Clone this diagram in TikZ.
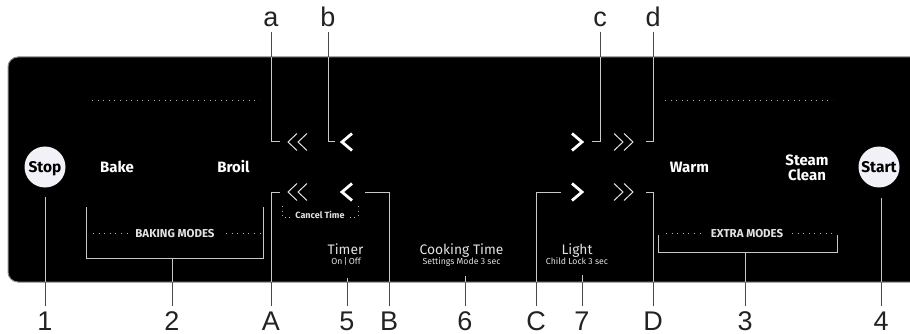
\documentclass[tikz,border=0pt]{standalone}
\usepackage{fontspec}
\setmainfont{Fira Sans}
\newfontfamily\labfont{Liberation Sans}
\definecolor{panelline}{HTML}{8C8C8C}
\definecolor{outconn}{HTML}{4A4A4A}
\definecolor{inconn}{HTML}{C8C8C8}
\definecolor{btnfill}{HTML}{F3F1F8}
\definecolor{dimtext}{HTML}{E2E2E2}
\definecolor{dotcol}{HTML}{B0B0B0}
\definecolor{labcol}{HTML}{222222}
\tikzset{
  lab/.style={font=\labfont\fontsize{27}{27}\selectfont, text=labcol, inner sep=5pt, outer sep=0pt, anchor=base},
  conn/.style={draw=outconn, line width=1pt},
  bracket/.style={draw=inconn, line width=1pt},
  btn/.style={circle, fill=btnfill, minimum size=41pt, inner sep=0pt},
  btntext/.style={font=\fontsize{15.5}{15.5}\selectfont\bfseries, text=black, inner sep=0pt, anchor=base},
  mode/.style={font=\fontsize{15}{15}\selectfont\bfseries, text=white, inner sep=0pt, anchor=base},
  groupname/.style={font=\fontsize{11.5}{11.5}\selectfont\bfseries, text=dimtext, inner sep=0pt, anchor=base},
  bigtxt/.style={font=\fontsize{13.8}{13.8}\selectfont, text=dimtext, inner sep=0pt, anchor=base},
  smalltxt/.style={font=\fontsize{8.7}{8.7}\selectfont, text=dimtext, inner sep=0pt, anchor=base},
  dotline/.style={draw=dotcol, line width=1pt, dash pattern=on 1pt off 4.6pt},
  chevthin/.style={draw=dimtext, line width=1pt},
  chevbold/.style={draw=white, line width=2.8pt},
}
\newcommand\drawconnectors{%
  \draw[conn] (la.south) |- (ea);
  \draw[conn] (lb.south) |- (eb);
  \draw[conn] (lc.south) |- (ec);
  \draw[conn] (ld.south) |- (ed);
  \draw[conn] (lA.north) |- (eA);
  \draw[conn] (lB.north) |- (eB);
  \draw[conn] (lC.north) |- (eC);
  \draw[conn] (lD.north) |- (eD);
  \draw[conn] (l1.north) -- (e1);
  \draw[conn] (l2.north) -- (e2);
  \draw[conn] (l3.north) -- (e3);
  \draw[conn] (l4.north) -- (e4);
  \draw[conn] (l5.north) -- (e5);
  \draw[conn] (l6.north) -- (e6);
  \draw[conn] (l7.north) -- (e7);
}
\begin{document}
\begin{tikzpicture}[x=1pt,y=-1pt]
\useasboundingbox (0,0) rectangle (910,334);
% panel
\draw[fill=black, draw=panelline, line width=1pt, rounded corners=10pt]
  (911,57) -- (8,57) -- (8,282) -- (911,282);

% buttons
\node[btn] (stop) at (45,167) {};
\node[btntext] (stoptxt) at (45,172) {Stop};
\node[btn] (start) at (879,167) {};
\node[btntext] (starttxt) at (879,172) {Start};

% mode names
\node[mode] (bake) at (117,172) {Bake};
\node[mode] (broil) at (233.5,172) {Broil};
\node[mode] (warm) at (689.5,172) {Warm};
\node[mode] (steam) at (807,165) {Steam};
\node[mode] (clean) at (807,180) {Clean};

% dotted lines at top
\draw[dotline] (92,101) -- (260,101);
\draw[dotline] (665,101) -- (833,101);

% group names with dots
\node[groupname] (baking) at (175,237) {BAKING MODES};
\draw[dotline] (93,233) -- (128,233);
\draw[dotline] (226,233) -- (260,233);
\node[groupname] (extra) at (747,237) {EXTRA MODES};
\draw[dotline] (666,233) -- (703,233);
\draw[dotline] (792,233) -- (833,233);

% brackets
\draw[bracket] (86,207) -- (86,258) -- (263,258) -- (263,207);
\draw[bracket] (658,235) -- (658,252) -- (837,252) -- (837,235);

% chevrons upper row
\draw[chevthin] (297,133.5) -- (288,142) -- (297,150.5);
\draw[chevthin] (307,133.5) -- (298,142) -- (307,150.5);
\draw[chevbold] (352,133.5) -- (342,142) -- (352,150.5);
\draw[chevbold] (572,133.5) -- (582,142) -- (572,150.5);
\draw[chevthin] (614,133.5) -- (623,142) -- (614,150.5);
\draw[chevthin] (624,133.5) -- (633,142) -- (624,150.5);
% chevrons lower row
\draw[chevthin] (297,183.5) -- (288,192) -- (297,200.5);
\draw[chevthin] (307,183.5) -- (298,192) -- (307,200.5);
\draw[chevbold] (352,183.5) -- (342,192) -- (352,200.5);
\draw[chevbold] (572,183.5) -- (582,192) -- (572,200.5);
\draw[chevthin] (614,183.5) -- (623,192) -- (614,200.5);
\draw[chevthin] (624,183.5) -- (633,192) -- (624,200.5);

% cancel time
\node[smalltxt, font=\fontsize{9}{9}\selectfont\bfseries] (cancel) at (320,218) {Cancel Time};
\draw[dotline, dash pattern=on 1pt off 3.6pt] (282,206) -- (282,217) -- (294,217);
\draw[dotline, dash pattern=on 1pt off 3.6pt] (358,206) -- (358,217) -- (346,217);

% lower texts
\node[bigtxt] (timer) at (345.5,254) {Timer};
\node[smalltxt] (onoff) at (346,264) {On\,|\,Off};
\node[bigtxt] (cooking) at (461.5,254) {Cooking Time};
\node[smalltxt] (settings) at (461.5,264) {Settings Mode 3 sec};
\node[bigtxt] (light) at (577,254) {Light};
\node[smalltxt] (childlock) at (577,264) {Child Lock 3 sec};

% labels
\node[lab] (la) at (271,27) {a};
\node[lab] (lb) at (328,27) {b};
\node[lab] (lc) at (600,27) {c};
\node[lab] (ld) at (653,27) {d};
\node[lab] (l1) at (45,330) {1};
\node[lab] (l2) at (172,330) {2};
\node[lab] (lA) at (271,330) {A};
\node[lab] (l5) at (347,330) {5};
\node[lab] (lB) at (389,330) {B};
\node[lab] (l6) at (465,330) {6};
\node[lab] (lC) at (536,330) {C};
\node[lab] (l7) at (582,330) {7};
\node[lab] (lD) at (653,330) {D};
\node[lab] (l3) at (745,330) {3};
\node[lab] (l4) at (881,330) {4};

% connector free ends
\coordinate (ea) at (280,142);
\coordinate (eb) at (335,142);
\coordinate (ec) at (592,142);
\coordinate (ed) at (646,142);
\coordinate (eA) at (280,192);
\coordinate (eB) at (365,192);
\coordinate (eC) at (561,192);
\coordinate (eD) at (646,192);
\coordinate (e1) at (45,197);
\coordinate (e2) at (172,258);
\coordinate (e3) at (745,252);
\coordinate (e4) at (881,198);
\coordinate (e5) at (347,278);
\coordinate (e6) at (465,276);
\coordinate (e7) at (582,275);

% connectors: dark outside the panel, light inside it
\drawconnectors
\begin{scope}
  \clip (8,57.5) rectangle (910,281.5);
  \tikzset{conn/.style={draw=inconn, line width=1pt}}
  \drawconnectors
\end{scope}
\end{tikzpicture}
\end{document}
